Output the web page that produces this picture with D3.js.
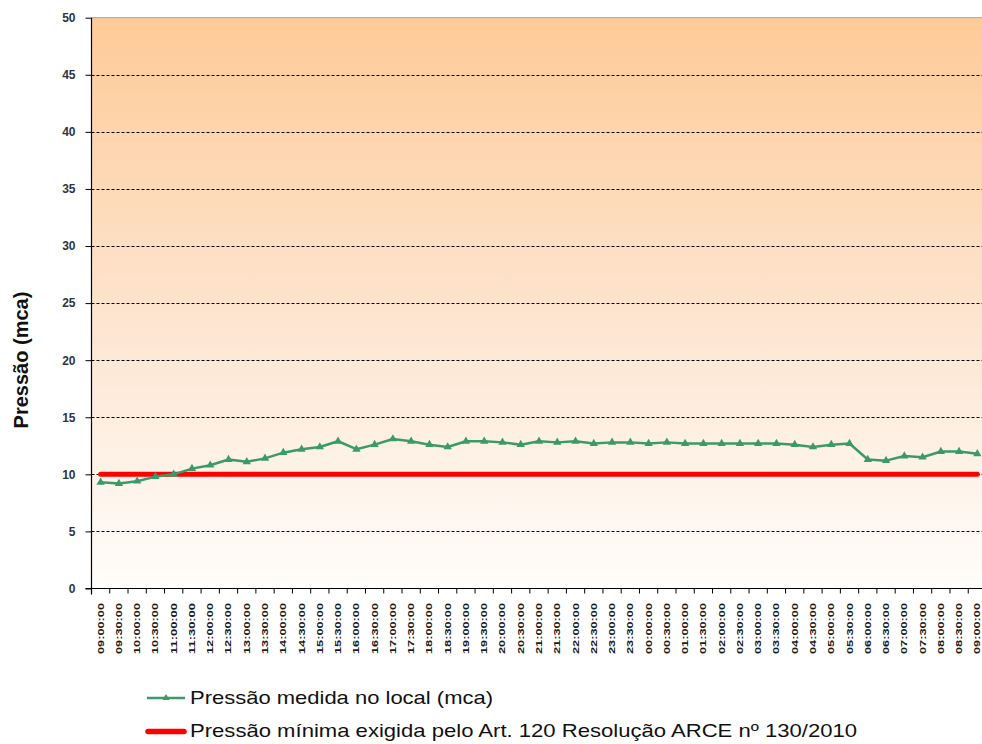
<!DOCTYPE html>
<html><head><meta charset="utf-8">
<script src="https://cdn.jsdelivr.net/npm/d3@7"></script>
<style>html,body{margin:0;padding:0;background:#fff;}svg{display:block;font-family:Arial,"Liberation Sans",sans-serif;}</style>
</head><body>
<svg id="c" width="982" height="744"></svg>
<script>
const times = ["09:00:00","09:30:00","10:00:00","10:30:00","11:00:00","11:30:00","12:00:00","12:30:00","13:00:00","13:30:00","14:00:00","14:30:00","15:00:00","15:30:00","16:00:00","16:30:00","17:00:00","17:30:00","18:00:00","18:30:00","19:00:00","19:30:00","20:00:00","20:30:00","21:00:00","21:30:00","22:00:00","22:30:00","23:00:00","23:30:00","00:00:00","00:30:00","01:00:00","01:30:00","02:00:00","02:30:00","03:00:00","03:30:00","04:00:00","04:30:00","05:00:00","05:30:00","06:00:00","06:30:00","07:00:00","07:30:00","08:00:00","08:30:00","09:00:00"];
const pressure = [9.3,9.2,9.4,9.8,10.0,10.5,10.8,11.3,11.1,11.4,11.9,12.2,12.4,12.9,12.2,12.6,13.1,12.9,12.6,12.4,12.9,12.9,12.8,12.6,12.9,12.8,12.9,12.7,12.8,12.8,12.7,12.8,12.7,12.7,12.7,12.7,12.7,12.7,12.6,12.4,12.6,12.7,11.3,11.2,11.6,11.5,12.0,12.0,11.8];
const minimum = times.map(() => 10);
const yTicks = [0,5,10,15,20,25,30,35,40,45,50];
const seriesNames = ["Pressão medida no local (mca)", "Pressão mínima exigida pelo Art. 120 Resolução ARCE nº 130/2010"];
const yTitle = "Pressão (mca)";

const svg = d3.select("#c");
const L = 91.5, R = 986.5, T = 17.7, B = 588.5;
const x = d3.scaleBand().domain(d3.range(times.length)).range([L, R]).padding(0);
const y = d3.scaleLinear().domain([0, 50]).range([B, T]);
const cx = i => x(i) + x.bandwidth() / 2;

const defs = svg.append("defs");
const g = defs.append("linearGradient").attr("id","bg").attr("x1",0).attr("y1",0).attr("x2",0).attr("y2",1);
g.append("stop").attr("offset","0%").attr("stop-color","#FECA97");
g.append("stop").attr("offset","55%").attr("stop-color","#FDE6D2");
g.append("stop").attr("offset","100%").attr("stop-color","#FFFDFB");

svg.append("rect").attr("x", L).attr("y", T).attr("width", 982 - L).attr("height", B - T).attr("fill", "url(#bg)");
svg.append("line").attr("x1", L).attr("x2", 982).attr("y1", T).attr("y2", T).attr("stroke", "#a0a0a0").attr("stroke-width", 1);

// gridlines
svg.append("g").selectAll("line").data(yTicks.filter(v => v > 0 && v < 50)).join("line")
  .attr("x1", L).attr("x2", 982).attr("y1", d => Math.round(y(d)) + 0.5).attr("y2", d => Math.round(y(d)) + 0.5)
  .attr("stroke", "#000").attr("stroke-width", 1).attr("stroke-dasharray", "3,2");

// y axis
const ya = svg.append("g").attr("transform", `translate(${L},0)`)
  .call(d3.axisLeft(y).tickValues(yTicks).tickSize(6).tickPadding(10).tickSizeOuter(0));
ya.select(".domain").remove();
ya.selectAll(".tick line").attr("stroke", "#000");
ya.selectAll(".tick text").attr("font-size", 12).attr("font-weight", "bold").attr("fill", "#2e3440").attr("font-family", "Arial, 'Liberation Sans', sans-serif");
svg.append("line").attr("x1", L).attr("x2", L).attr("y1", T).attr("y2", B + 6).attr("stroke", "#000").attr("stroke-width", 1.2);

// x axis
svg.append("line").attr("x1", L - 6).attr("x2", 982).attr("y1", B).attr("y2", B).attr("stroke", "#000").attr("stroke-width", 1.2);
svg.append("g").selectAll("line").data(d3.range(times.length + 1)).join("line")
  .attr("x1", i => L + i * x.bandwidth()).attr("x2", i => L + i * x.bandwidth())
  .attr("y1", B).attr("y2", B + 5).attr("stroke", "#000");
svg.append("g").selectAll("text").data(times).join("text")
  .attr("transform", (d, i) => `translate(${cx(i) + 3},603) rotate(-90)`)
  .attr("text-anchor", "end").attr("font-size", 8.3).attr("font-weight", "bold").attr("fill", "#1a1a1a")
  .attr("textLength", 51).attr("lengthAdjust", "spacingAndGlyphs")
  .text(d => d);

// y title
svg.append("text").attr("transform", "translate(28,360) rotate(-90)").attr("text-anchor", "middle")
  .attr("font-size", 20).attr("font-weight", "bold").attr("fill", "#111").text(yTitle);

// minimum line
const line = d3.line().x((d, i) => cx(i)).y(d => y(d));
svg.append("path").datum(minimum).attr("d", line).attr("fill", "none").attr("stroke", "#FF0000").attr("stroke-width", 5).attr("stroke-linecap", "round");

// pressure line
svg.append("path").datum(pressure).attr("d", line).attr("fill", "none").attr("stroke", "#3A9A6A").attr("stroke-width", 2.5).attr("stroke-linejoin", "round");
const tri = d3.symbol().type(d3.symbolTriangle).size(30);
svg.append("g").selectAll("path").data(pressure).join("path")
  .attr("transform", (d, i) => `translate(${cx(i)},${y(d)})`).attr("d", tri).attr("fill", "#3A9A6A");

// legend
const lg = svg.append("g");
lg.append("line").attr("x1", 147).attr("x2", 185).attr("y1", 698).attr("y2", 698).attr("stroke", "#3A9A6A").attr("stroke-width", 2.5);
lg.append("path").attr("transform", "translate(166,698)").attr("d", d3.symbol().type(d3.symbolTriangle).size(22)).attr("fill", "#3A9A6A");
lg.append("line").attr("x1", 148).attr("x2", 184).attr("y1", 731.5).attr("y2", 731.5).attr("stroke", "#FF0000").attr("stroke-width", 5.5).attr("stroke-linecap", "round");
lg.append("text").attr("x", 190).attr("y", 703.5).attr("font-size", 18.5).attr("fill", "#111")
  .attr("textLength", 303).attr("lengthAdjust", "spacingAndGlyphs").text(seriesNames[0]);
lg.append("text").attr("x", 190).attr("y", 737).attr("font-size", 18.5).attr("fill", "#111")
  .attr("textLength", 667).attr("lengthAdjust", "spacingAndGlyphs").text(seriesNames[1]);
</script>
</body></html>
